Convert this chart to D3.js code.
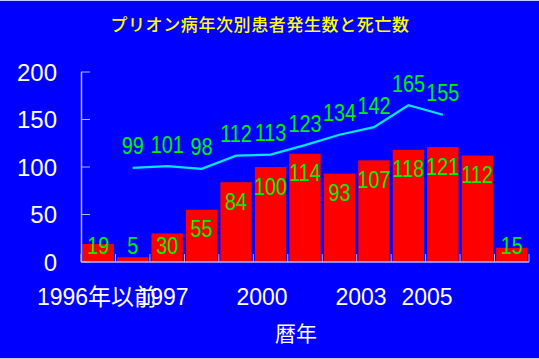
<!DOCTYPE html>
<html>
<head>
<meta charset="utf-8">
<script src="https://cdn.jsdelivr.net/npm/d3@7"></script>
<style>
	html, body { margin: 0; padding: 0; background: #0000ff; }
	svg { display: block; }
</style>
</head>
<body>
<svg id="chart"></svg>
<script>
const categories = ['1996年以前', '1996', '1997', '1998', '1999', '2000', '2001', '2002', '2003', '2004', '2005', '2006', '2007'];
const xTickLabels = ['1996年以前', '', '1997', '', '', '2000', '', '', '2003', '', '2005', '', ''];
const patients = [19, 5, 30, 55, 84, 100, 114, 93, 107, 118, 121, 112, 15];
const deaths = [null, 99, 101, 98, 112, 113, 123, 134, 142, 165, 155, null, null];
const yTicks = [0, 50, 100, 150, 200];

const DIMENSION = {
	width: 539,
	height: 359,
	margin: { left: 81, right: 10, top: 72, bottom: 97 }
};
DIMENSION.trueRight = 529;
DIMENSION.trueBottom = DIMENSION.height - DIMENSION.margin.bottom;

const FONT = '"Liberation Sans", "Noto Sans CJK JP", sans-serif';
const AXIS_COLOR = '#b4b4ff';

const svg = d3.select('#chart')
	.attr('width', DIMENSION.width)
	.attr('height', DIMENSION.height);

svg.append('rect')
	.attr('width', DIMENSION.width)
	.attr('height', DIMENSION.height)
	.attr('fill', '#0000ff');

// thin light border top and bottom
svg.append('line').attr('x1', 0).attr('x2', DIMENSION.width).attr('y1', 0.5).attr('y2', 0.5)
	.attr('stroke', '#c8c8ff');
svg.append('line').attr('x1', 0).attr('x2', DIMENSION.width).attr('y1', DIMENSION.height - 0.5).attr('y2', DIMENSION.height - 0.5)
	.attr('stroke', '#c8c8ff');

const xScale = d3.scaleBand()
	.domain(categories)
	.range([DIMENSION.margin.left, DIMENSION.trueRight])
	.paddingInner(0.09)
	.paddingOuter(0.045);

const yScale = d3.scaleLinear()
	.domain([0, 200])
	.range([DIMENSION.trueBottom, DIMENSION.margin.top]);

// tick labels sit on a slightly tighter spacing than the bars
const labelScale = d3.scaleLinear()
	.domain([0, categories.length - 1])
	.range([97, 493]);

svg.append('text')
	.attr('x', 260)
	.attr('y', 23)
	.attr('text-anchor', 'middle')
	.attr('dominant-baseline', 'central')
	.attr('fill', '#ffff00')
	.attr('font-family', '"Noto Sans CJK JP", sans-serif')
	.attr('font-weight', 500)
	.attr('font-size', 17)
	.attr('letter-spacing', 0.6)
	.text('プリオン病年次別患者発生数と死亡数');

// bars
svg.append('g').selectAll('rect')
	.data(patients)
	.enter().append('rect')
	.attr('x', (d, i) => xScale(categories[i]))
	.attr('y', d => yScale(d))
	.attr('width', xScale.bandwidth())
	.attr('height', d => yScale(0) - yScale(d))
	.attr('fill', '#ff0000');

// axes
const axisG = svg.append('g');
axisG.append('line')
	.attr('x1', DIMENSION.margin.left + 0.5).attr('x2', DIMENSION.margin.left + 0.5)
	.attr('y1', yScale(200)).attr('y2', yScale(0))
	.attr('stroke', AXIS_COLOR).attr('stroke-width', 1.5);
axisG.append('line')
	.attr('x1', DIMENSION.margin.left).attr('x2', DIMENSION.trueRight)
	.attr('y1', yScale(0)).attr('y2', yScale(0))
	.attr('stroke', AXIS_COLOR).attr('stroke-width', 1.5);

axisG.selectAll('.ytick')
	.data(yTicks)
	.enter().append('line')
	.attr('class', 'ytick')
	.attr('x1', DIMENSION.margin.left).attr('x2', DIMENSION.margin.left + 9)
	.attr('y1', d => yScale(d)).attr('y2', d => yScale(d))
	.attr('stroke', AXIS_COLOR).attr('stroke-width', 1);

axisG.selectAll('.ylabel')
	.data(yTicks)
	.enter().append('text')
	.attr('class', 'ylabel')
	.attr('x', 57)
	.attr('y', d => yScale(d))
	.attr('text-anchor', 'end')
	.attr('dominant-baseline', 'central')
	.attr('fill', '#ffffff')
	.attr('font-family', FONT)
	.attr('font-size', 24)
	.text(d => d);

const boundaries = d3.range(categories.length + 1).map(i => DIMENSION.margin.left + i * (DIMENSION.trueRight - DIMENSION.margin.left) / categories.length);
axisG.selectAll('.xtick')
	.data(boundaries)
	.enter().append('line')
	.attr('class', 'xtick')
	.attr('x1', d => d).attr('x2', d => d)
	.attr('y1', yScale(0)).attr('y2', yScale(0) - 8)
	.attr('stroke', AXIS_COLOR).attr('stroke-width', 1);

axisG.selectAll('.xlabel')
	.data(xTickLabels)
	.enter().append('text')
	.attr('class', 'xlabel')
	.attr('x', (d, i) => labelScale(i))
	.attr('y', 297)
	.attr('text-anchor', 'middle')
	.attr('dominant-baseline', 'central')
	.attr('fill', '#ffffff')
	.attr('font-family', FONT)
	.attr('font-size', 23)
	.text(d => d);

svg.append('text')
	.attr('x', 296)
	.attr('y', 332)
	.attr('text-anchor', 'middle')
	.attr('dominant-baseline', 'central')
	.attr('fill', '#ffffff')
	.attr('font-family', '"Noto Sans CJK JP", sans-serif')
	.attr('font-size', 21)
	.text('暦年');

// death line
const linePoints = deaths.map((d, i) => ({ cat: categories[i], v: d })).filter(p => p.v !== null);
const line = d3.line()
	.x(d => xScale(d.cat) + xScale.bandwidth() / 2)
	.y(d => yScale(d.v));

svg.append('path')
	.datum(linePoints)
	.attr('fill', 'none')
	.attr('stroke', '#00e8ff')
	.attr('stroke-width', 2.2)
	.attr('d', line);

// value labels use a narrow, tall face: squeeze a larger size horizontally
const LABEL_COLOR = '#00f000';
const narrowLabel = (sel, xf, yf) => sel
	.attr('transform', (d, i) => `translate(${xf(d, i)},${yf(d, i)}) scale(0.86,1)`)
	.attr('text-anchor', 'middle')
	.attr('dominant-baseline', 'central')
	.attr('fill', LABEL_COLOR)
	.attr('font-family', FONT)
	.attr('font-size', 23);

narrowLabel(
	svg.append('g').selectAll('text').data(patients).enter().append('text'),
	(d, i) => xScale(categories[i]) + xScale.bandwidth() / 2,
	d => Math.min(yScale(d) + 20, yScale(0) - 16)
).text(d => d);

narrowLabel(
	svg.append('g').selectAll('text').data(linePoints).enter().append('text'),
	d => xScale(d.cat) + xScale.bandwidth() / 2,
	d => yScale(d.v) - 21
).text(d => d.v);
</script>
</body>
</html>
